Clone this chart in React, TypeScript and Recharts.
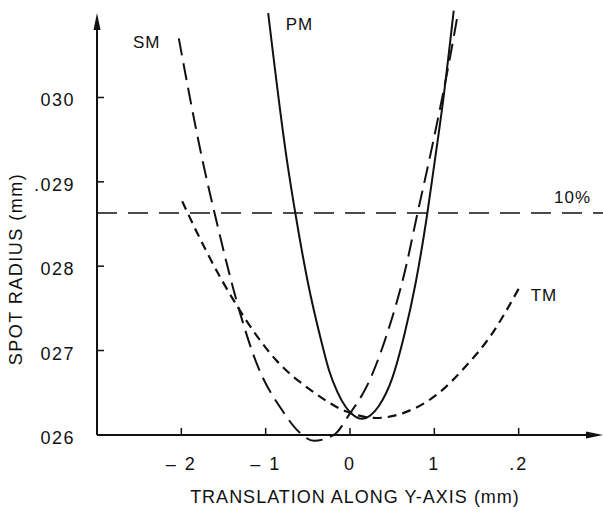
import React from "react";
import {
  LineChart,
  Line,
  XAxis,
  YAxis,
  ReferenceLine,
  ReferenceDot,
  Label,
} from "recharts";

// x ticks / y ticks as printed on the original figure
const xTicks = [-2, -1, 0, 1, 2];
const xTickLabels = ["– 2", "– 1", "0", "1", ".2"];
const yTicks = [0.026, 0.027, 0.028, 0.029, 0.03];
const yTickLabels = ["026", "027", "028", ".029", "030"];

// PM (solid)
const pmX = [-0.97, -0.75, -0.64, -0.5, -0.34, -0.25, -0.15, -0.05, 0.02, 0.14, 0.24, 0.34, 0.5, 0.65, 0.78, 0.91, 1.0, 1.1, 1.23];
const pmY = [0.031, 0.02927, 0.02858, 0.02781, 0.02711, 0.02677, 0.02651, 0.02633, 0.02625, 0.02619, 0.02623, 0.02634, 0.02667, 0.02721, 0.02781, 0.02858, 0.02921, 0.02993, 0.03103];

// SM (long dash)
const smX = [-2.03, -1.75, -1.58, -1.32, -1.1, -0.81, -0.6, -0.43, -0.19, -0.01, 0.22, 0.43, 0.67, 0.79, 0.97, 1.22, 1.28];
const smY = [0.0307, 0.02926, 0.02852, 0.02750, 0.02683, 0.02630, 0.02603, 0.02593, 0.02600, 0.02624, 0.02662, 0.02717, 0.02802, 0.02858, 0.02940, 0.03066, 0.031];

// TM (short dash)
const tmX = [-1.99, -1.71, -1.34, -0.88, -0.45, -0.05, 0.31, 0.66, 1.02, 1.37, 1.65, 2.01];
const tmY = [0.02877, 0.02819, 0.02753, 0.02689, 0.02652, 0.02628, 0.0262, 0.02627, 0.02647, 0.02681, 0.02715, 0.02775];

// horizontal 10% level
const tenPercent = 0.02863;

// curve labels
const curveLabels = ["SM", "PM", "TM", "10%"];
const labelX = [-2.41, -0.6, 2.3, 2.64];
const labelY = [0.03066, 0.03087, 0.02766, 0.02882];

const zip = (xs: number[], ys: number[]) => xs.map((x, i) => ({ x, y: ys[i] }));
const pm = zip(pmX, pmY);
const sm = zip(smX, smY);
const tm = zip(tmX, tmY);

const Y_MIN = 0.026;
const Y_MAX = 0.031;
const Y_PAD = 0.00012; // room for curves poking past the axes
const CHART_H = 519;
const TOP = 3;
const X_AXIS_H = 74;
const PLOT_H = CHART_H - TOP - X_AXIS_H;
const PAD_PX = (PLOT_H * Y_PAD) / (Y_MAX - Y_MIN + 2 * Y_PAD);

const INK = "#111";
const FONT = '"Liberation Sans", Arial, sans-serif';

function XTick(props: any) {
  const { x, y, payload } = props;
  const i = xTicks.findIndex((t) => Math.abs(t - payload.value) < 1e-9);
  const axisY = y - PAD_PX;
  return (
    <g>
      <line x1={x} x2={x} y1={axisY} y2={axisY - 7} stroke={INK} strokeWidth={1.5} />
      <text x={x} y={axisY + 35} textAnchor="middle" fontSize={18} letterSpacing={2} fill={INK} fontFamily={FONT}>
        {xTickLabels[i]}
      </text>
    </g>
  );
}

function YTick(props: any) {
  const { x, y, payload } = props;
  const i = yTicks.findIndex((t) => Math.abs(t - payload.value) < 1e-9);
  return (
    <g>
      {i > 0 && <line x1={x} x2={x + 7} y1={y} y2={y} stroke={INK} strokeWidth={1.5} />}
      <text x={x - 22} y={y} dy={9} textAnchor="end" fontSize={18} letterSpacing={1.5} fill={INK} fontFamily={FONT}>
        {yTickLabels[i]}
      </text>
    </g>
  );
}

function UpArrowAxis(props: any) {
  const { x1, y1, x2, y2 } = props;
  const top = Math.min(y1, y2);
  const bottom = Math.max(y1, y2);
  return (
    <g>
      <line x1={x1} x2={x2} y1={bottom} y2={top + 8} stroke={INK} strokeWidth={2} />
      <path d={`M${x1},${top} L${x1 - 3.5},${top + 17} L${x1 + 3.5},${top + 17} Z`} fill={INK} />
    </g>
  );
}

function RightArrowAxis(props: any) {
  const { x1, y1, x2 } = props;
  const left = Math.min(x1, x2);
  const right = Math.max(x1, x2);
  return (
    <g>
      <line x1={left} x2={right - 8} y1={y1} y2={y1} stroke={INK} strokeWidth={2} />
      <path d={`M${right},${y1} L${right - 17},${y1 - 3.5} L${right - 17},${y1 + 3.5} Z`} fill={INK} />
    </g>
  );
}

export default function App() {
  return (
    <div style={{ position: "absolute", left: 0, top: 0, background: "#fff" }}>
      <LineChart width={603} height={CHART_H} margin={{ top: TOP, right: 0, bottom: 0, left: 0 }}>
        <XAxis
          type="number"
          dataKey="x"
          domain={[-3, 3]}
          ticks={xTicks}
          axisLine={false}
          tickLine={false}
          tickSize={0}
          tickMargin={0}
          height={X_AXIS_H}
          tick={<XTick />}
        >
          <Label
            content={() => (
              <text x={355} y={503} textAnchor="middle" fontSize={18} letterSpacing={1} fill={INK} fontFamily={FONT}>
                TRANSLATION ALONG Y-AXIS (mm)
              </text>
            )}
          />
        </XAxis>
        <YAxis
          type="number"
          domain={[Y_MIN - Y_PAD, Y_MAX + Y_PAD]}
          ticks={yTicks}
          allowDataOverflow
          axisLine={false}
          tickLine={false}
          tickSize={0}
          tickMargin={0}
          width={97}
          tick={<YTick />}
        >
          <Label
            content={() => (
              <text
                transform="translate(22,269) rotate(-90)"
                textAnchor="middle"
                fontSize={18}
                letterSpacing={1.5}
                fill={INK}
                fontFamily={FONT}
              >
                SPOT RADIUS (mm)
              </text>
            )}
          />
        </YAxis>

        <ReferenceLine
          y={tenPercent}
          stroke={INK}
          strokeWidth={1.4}
          strokeDasharray="20 11"
        />
        <ReferenceLine
          segment={[{ x: -3, y: Y_MIN }, { x: -3, y: Y_MAX }]}
          shape={UpArrowAxis}
        />
        <ReferenceLine
          segment={[{ x: -3, y: Y_MIN }, { x: 3, y: Y_MIN }]}
          shape={RightArrowAxis}
        />

        <Line data={pm} dataKey="y" type="monotone" stroke={INK} strokeWidth={2} dot={false} isAnimationActive={false} />
        <Line data={sm} dataKey="y" type="monotone" stroke={INK} strokeWidth={2} strokeDasharray="17 8" dot={false} isAnimationActive={false} />
        <Line data={tm} dataKey="y" type="monotone" stroke={INK} strokeWidth={2.2} strokeDasharray="9 6" dot={false} isAnimationActive={false} />

        {curveLabels.map((name, i) => (
          <ReferenceDot
            key={name}
            x={labelX[i]}
            y={labelY[i]}
            r={0}
            fill="none"
            stroke="none"
            label={{ value: name, position: "center", fontSize: 17, fill: INK, fontFamily: FONT, letterSpacing: 1 }}
          />
        ))}
      </LineChart>
    </div>
  );
}
